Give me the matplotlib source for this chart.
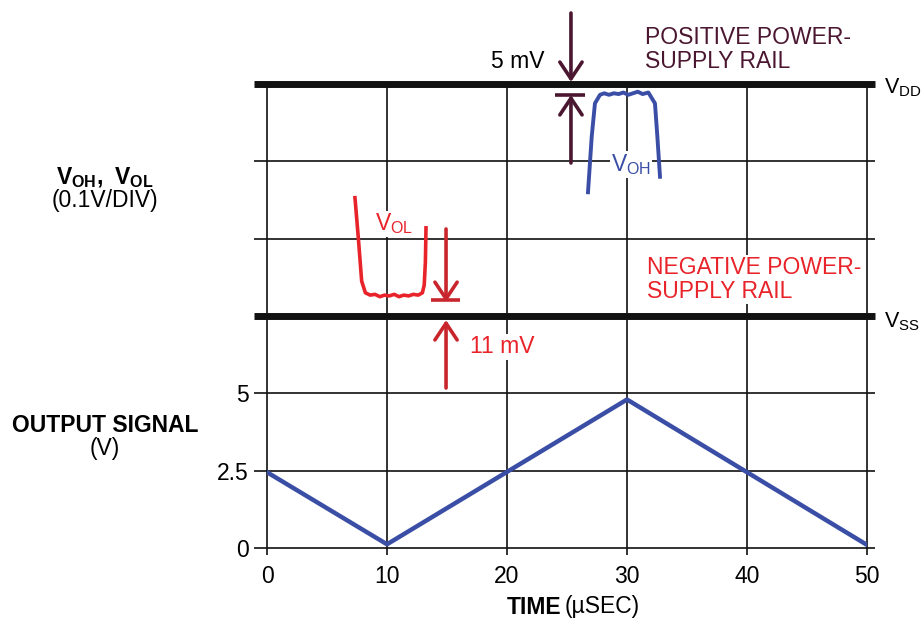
import matplotlib.pyplot as plt

plt.rcParams['font.family'] = ['Liberation Sans', 'DejaVu Sans']

# output signal (V) vs time (us)
out_t = [0, 10, 30, 50]
out_v = [2.45, 0.12, 4.8, 0.1]

# V_OL trace: mV above the negative rail
vol_t = [7.33, 7.61, 7.89, 8.2, 8.6, 9.0, 9.4, 9.8, 10.2, 10.6, 11.0, 11.4, 11.8, 12.2, 12.6, 12.95, 13.1, 13.2, 13.25]
vol_mv = [153, 101, 45, 30, 27, 28, 25, 27, 26, 28, 25, 27, 26, 28, 27, 30, 40, 70, 114]

# V_OH trace: mV below the positive rail
voh_t = [26.75, 27.06, 27.33, 27.75, 28.1, 28.5, 28.9, 29.3, 29.7, 30.1, 30.5, 30.9, 31.3, 31.78, 32.33, 32.53, 32.75]
voh_mv = [140, 68, 25, 14, 12, 14, 12, 13, 11, 14, 12, 10, 13, 11, 25, 68, 120]

x_ticks = [0, 10, 20, 30, 40, 50]
y_ticks = [0, 1, 2]
y_ticklabels = ['0', '2.5', '5']

VOLT_PER_DIV = 2.5
MV_PER_DIV = 100
VSS_DIV = 3
VDD_DIV = 6

blue = '#3a4ea6'
red = '#e8232a'
dark_red = '#c8262c'
maroon = '#4a1630'

fig = plt.figure(figsize=(9.23, 6.24), dpi=100)
ax = fig.add_axes([267 / 923, 76 / 624, 600 / 923, 464 / 624])
ax.set_xlim(0, 50)
ax.set_ylim(0, 6)
for s in ax.spines.values():
    s.set_visible(False)

# grid
for d in range(7):
    lw = 5 if d in (VSS_DIV, VDD_DIV) else 1.2
    ax.hlines(d, -1.1, 50.7, color='#111111', lw=lw, clip_on=False, zorder=1)
ax.vlines(x_ticks, -0.09, 6, color='#111111', lw=1.2, clip_on=False, zorder=1)

ax.set_xticks(x_ticks)
ax.set_yticks(y_ticks)
ax.set_yticklabels(y_ticklabels)
ax.tick_params(length=0, labelsize=16.5)
ax.tick_params(axis='x', pad=12)
ax.tick_params(axis='y', pad=13)

# traces
ax.plot(out_t, [v / VOLT_PER_DIV for v in out_v], color=blue, lw=3.2, zorder=4, solid_capstyle='round')
ax.plot(vol_t, [VSS_DIV + m / MV_PER_DIV for m in vol_mv], color=red, lw=2.6, zorder=4)
ax.plot(voh_t, [VDD_DIV - m / MV_PER_DIV for m in voh_mv], color=blue, lw=2.8, zorder=4)

# 5 mV marker
arr = dict(arrowstyle='->,head_length=0.6,head_width=0.4', lw=2.6, mutation_scale=20, shrinkA=0, shrinkB=0)
ax.annotate('', xy=(25.33, 6.026), xytext=(25.33, 6.918), arrowprops=dict(arr, color=maroon), annotation_clip=False)
ax.annotate('', xy=(25.33, 5.858), xytext=(25.33, 4.979), arrowprops=dict(arr, color=maroon), annotation_clip=False)
ax.hlines(5.858, 24.0, 26.5, color=maroon, lw=2.6, zorder=5)
ax.text(20.9, 6.285, '5 mV', fontsize=16.5, ha='center', va='center', clip_on=False)

# 11 mV marker
ax.annotate('', xy=(14.92, 3.18), xytext=(14.92, 4.125), arrowprops=dict(arr, color=dark_red), zorder=5)
ax.annotate('', xy=(14.92, 2.948), xytext=(14.92, 2.069), arrowprops=dict(arr, color=dark_red), zorder=5)
ax.hlines(3.207, 13.67, 16.08, color=dark_red, lw=2.6, zorder=5)
ax.text(19.6, 2.6, '11 mV', fontsize=16.5, color=red, ha='center', va='center', zorder=3,
        bbox=dict(fc='white', ec='none', pad=1))

# labels on the plot
ax.text(31.5, 6.447, 'POSITIVE POWER-\nSUPPLY RAIL', fontsize=16.5, color=maroon, ha='left', va='center',
        linespacing=1.05, clip_on=False)
ax.text(31.67, 3.472, 'NEGATIVE POWER-\nSUPPLY RAIL', fontsize=16.5, color=red, ha='left', va='center',
        linespacing=1.05, zorder=3, bbox=dict(fc='white', ec='none', pad=1))
ax.text(9.0, 4.19, r'$\mathregular{V_{OL}}$', fontsize=16.5, color=red, ha='left', va='center', zorder=3,
        bbox=dict(fc='white', ec='none', pad=0.5))
ax.text(28.67, 4.96, r'$\mathregular{V_{OH}}$', fontsize=16.5, color=blue, ha='left', va='center', zorder=3,
        bbox=dict(fc='white', ec='none', pad=0.5))
ax.text(51.4, 5.95, r'$\mathregular{V_{DD}}$', fontsize=15.5, ha='left', va='center', clip_on=False)
ax.text(51.4, 2.92, r'$\mathregular{V_{SS}}$', fontsize=15.5, ha='left', va='center', clip_on=False)

# left-side axis titles
fig.text(105 / 923, 1 - 178 / 624, r'$\mathregular{V_{OH},\ V_{OL}}$', fontsize=16.5, fontweight='bold',
         ha='center', va='center')
fig.text(105 / 923, 1 - 201 / 624, '(0.1V/DIV)', fontsize=16.5, ha='center', va='center')
fig.text(105 / 923, 1 - 425 / 624, 'OUTPUT SIGNAL', fontsize=16.5, fontweight='bold', ha='center', va='center')
fig.text(105 / 923, 1 - 448 / 624, '(V)', fontsize=16.5, ha='center', va='center')

# x axis title
fig.text(561 / 923, 1 - 607 / 624, 'TIME', fontsize=16.5, fontweight='bold', ha='right', va='center')
fig.text(565 / 923, 1 - 607 / 624, '(\u00b5SEC)', fontsize=16.5, ha='left', va='center')

fig.savefig('out.png', dpi=100)
